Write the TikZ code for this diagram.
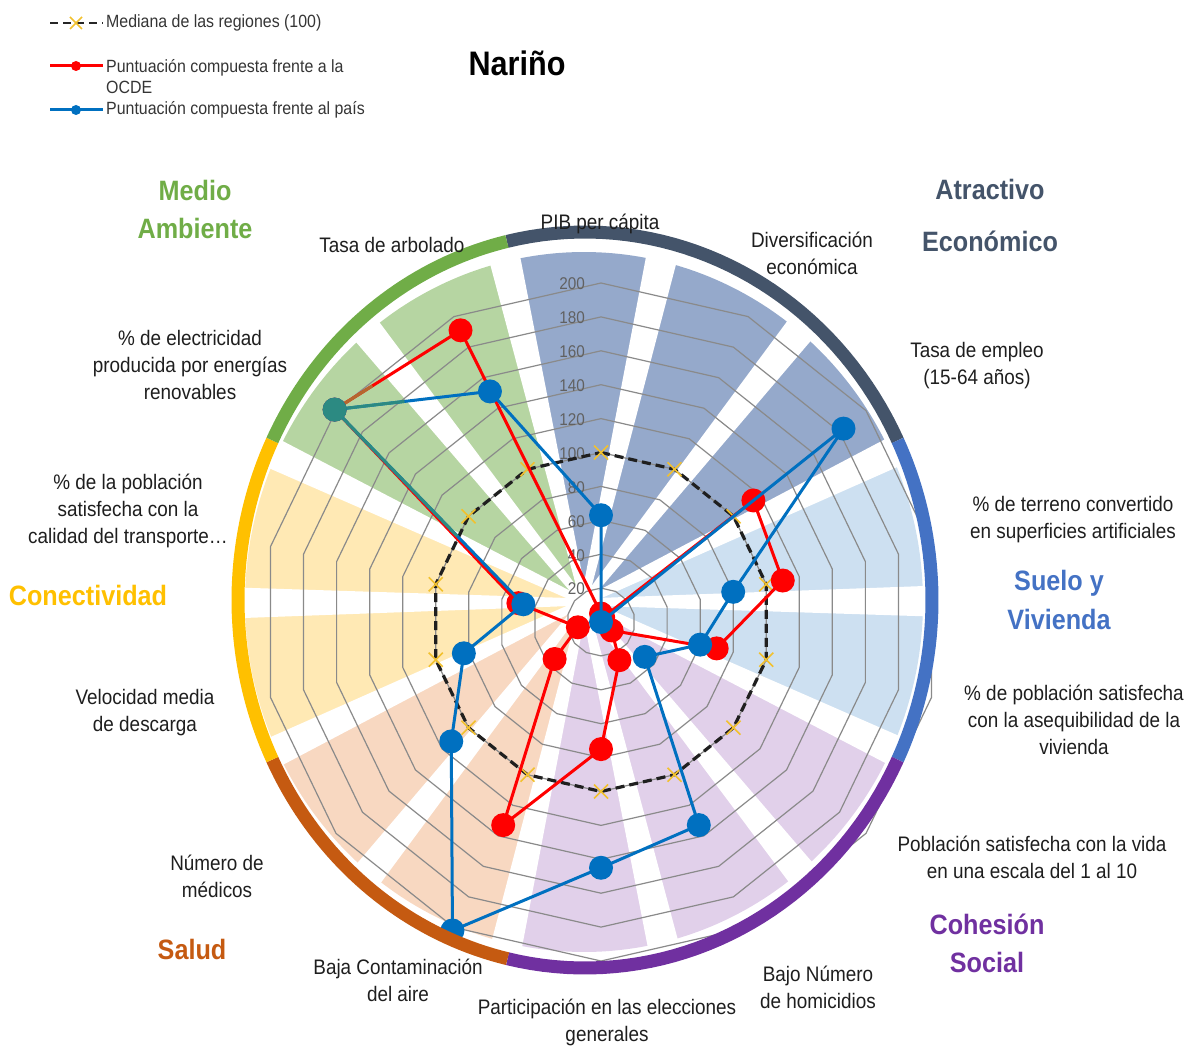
\documentclass[tikz,border=0pt]{standalone}
\usepackage{fontspec}
\setmainfont[FakeStretch=0.9]{Liberation Sans}
\usetikzlibrary{calc}
\definecolor{sliceG}{HTML}{B6D5A2}
\definecolor{sliceD}{HTML}{95A9CB}
\definecolor{sliceL}{HTML}{CDE0F1}
\definecolor{sliceP}{HTML}{E1D0EA}
\definecolor{sliceO}{HTML}{F8D8C1}
\definecolor{sliceY}{HTML}{FFE9B4}
\definecolor{ringG}{HTML}{70AD47}
\definecolor{ringD}{HTML}{44546A}
\definecolor{ringB}{HTML}{4472C4}
\definecolor{ringP}{HTML}{7030A0}
\definecolor{ringO}{HTML}{C55A11}
\definecolor{ringY}{HTML}{FFC000}
\definecolor{serR}{HTML}{FF0000}
\definecolor{serB}{HTML}{0070C0}
\definecolor{serT}{HTML}{2C8A82}
\definecolor{serBr}{HTML}{B5672E}
\definecolor{gridc}{HTML}{8A8A8A}
\definecolor{mkc}{HTML}{F2C12E}
\definecolor{txt}{HTML}{1E1E1E}
\begin{document}
\begin{tikzpicture}[x=1pt,y=-1pt,
  lab/.style={font=\fontsize{21}{27}\selectfont, text=txt, align=center, inner sep=0pt},
  cat/.style={font=\fontsize{28}{38}\selectfont\bfseries, align=center, inner sep=0pt},
  leg/.style={font=\fontsize{17.7}{21}\selectfont, text=txt!90, align=left, inner sep=0pt, anchor=west},
  scal/.style={font=\fontsize{17}{20}\selectfont, text=black!62, inner sep=0pt, anchor=east},
  gridline/.style={draw=gridc, line width=1.2},
  medline/.style={draw=black!88, line width=3.2, dash pattern=on 9 off 5},
  mk/.style={draw=mkc, line width=1.6},
  redline/.style={draw=serR, line width=3, line join=round},
  blueline/.style={draw=serB, line width=3, line join=round},
  ringseg/.style={line width=13}
]
\useasboundingbox (0,0) rectangle (1187,1046);

% background pie slices
\foreach \k/\c in {0/sliceD,1/sliceD,2/sliceD,3/sliceL,4/sliceL,5/sliceP,6/sliceP,7/sliceP,8/sliceO,9/sliceO,10/sliceY,11/sliceY,12/sliceG,13/sliceG}{
  \pgfmathsetmacro\aa{25.714*\k-13}
  \pgfmathsetmacro\bb{25.714*\k+12.714}
  \fill[\c] (584,602) -- plot[domain=\aa:\bb, samples=24, variable=\t] ({584+339*sin(\t)},{602-350*cos(\t)}) -- cycle;
}
% white gaps between slices
\foreach \k in {0,...,13}{
  \pgfmathsetmacro\bb{25.714*\k-13}
  \fill[white] ({584+3.5*cos(\bb)},{602+3.5*sin(\bb)}) -- ({584-3.5*cos(\bb)},{602-3.5*sin(\bb)})
    -- ({584+380*sin(\bb)-16.5*cos(\bb)},{602-380*cos(\bb)-16.5*sin(\bb)})
    -- ({584+380*sin(\bb)+16.5*cos(\bb)},{602-380*cos(\bb)+16.5*sin(\bb)}) -- cycle;
}

% grid polygons
\foreach \vv in {20,40,...,200}{
  \draw[gridline] plot[samples at={0,...,13}, variable=\t] ({601+1.695*\vv*sin(25.714*\t)},{622-1.695*\vv*cos(25.714*\t)}) -- cycle;
}
% scale labels
\foreach \vv in {0,20,...,200}{
  \node[scal] (s\vv) at (585,{623-1.695*\vv}) {\vv};
}

% median polygon
\draw[medline] plot[samples at={0,...,13}, variable=\t] ({601+169.5*sin(25.714*\t)},{622-169.5*cos(25.714*\t)}) -- cycle;
\foreach \k in {0,...,13}{
  \coordinate (m\k) at ({601+169.5*sin(25.714*\k)},{622-169.5*cos(25.714*\k)});
  \draw[mk] (m\k) +(-7,-7) -- +(7,7) +(-7,7) -- +(7,-7);
}

% series coordinates
\foreach \k/\vv in {0/5,1/3,2/115,3/110,4/70,5/8,6/25,7/75,8/133,9/35,10/14,11/50,12/201,13/191}{
  \coordinate (r\k) at ({601+1.695*\vv*sin(25.714*\k)},{622-1.695*\vv*cos(25.714*\k)});
}
\foreach \k/\vv in {0/63,1/0,2/183,3/80,4/60,5/33,6/133,7/145,8/202,9/113,10/83,11/47,12/201,13/151}{
  \coordinate (b\k) at ({601+1.695*\vv*sin(25.714*\k)},{622-1.695*\vv*cos(25.714*\k)});
}

% red series
\draw[redline] (r0) -- (r1) -- (r2) -- (r3) -- (r4) -- (r5) -- (r6) -- (r7) -- (r8) -- (r9) -- (r10) -- (r11) -- (r12) -- (r13) -- cycle;
\draw[draw=serBr, line width=3] (r12) -- ($(r12)!0.3!(r13)$);
\foreach \k in {0,...,13}{ \fill[serR] (r\k) circle[radius=12]; }

% blue series
\draw[blueline] (b0) -- (b1) -- (b2) -- (b3) -- (b4) -- (b5) -- (b6) -- (b7) -- (b8) -- (b9) -- (b10) -- (b11) -- (b12) -- (b13) -- cycle;
\draw[draw=serT, line width=3] (b12) -- ($(b12)!0.65!(b11)$);
\draw[draw=serT, line width=3] (b12) -- ($(b12)!0.45!(b13)$);
\foreach \k in {0,...,13}{ \fill[serB] (b\k) circle[radius=12]; }
\fill[serT] (b12) circle[radius=12];

% outer ring
\foreach \aa/\bb/\c in {-13/64.3/ringD, 64.3/115.7/ringB, 115.7/192.9/ringP, 192.9/244.3/ringO, 244.3/295.7/ringY, 295.7/347/ringG}{
  \draw[ringseg, draw=\c] plot[domain=\aa:\bb, samples=40, variable=\t] ({585+347*sin(\t)},{600-368*cos(\t)});
}

% title
\node[font=\fontsize{34}{40}\selectfont\bfseries, text=black, inner sep=0pt] (title) at (517,63) {Nariño};

% legend
\coordinate (la) at (50,23); \coordinate (lb) at (103,23); \coordinate (lm) at (76,23);
\draw[draw=black!85, line width=2.6, dash pattern=on 8 off 5] (la) -- (lb);
\draw[mk] (lm) +(-6,-6) -- +(6,6) +(-6,6) -- +(6,-6);
\node[leg] (l1) at (106,23) {Mediana de las regiones (100)};
\coordinate (lc) at (50,66); \coordinate (ld) at (103,66); \coordinate (ln) at (76,66);
\draw[draw=serR, line width=3] (lc) -- (ld);
\fill[serR] (ln) circle[radius=5];
\node[leg] (l2) at (106,77) {Puntuación compuesta frente a la\\OCDE};
\coordinate (le) at (50,110); \coordinate (lf) at (103,110); \coordinate (lo) at (76,110);
\draw[draw=serB, line width=3] (le) -- (lf);
\fill[serB] (lo) circle[radius=5];
\node[leg] (l3) at (106,110) {Puntuación compuesta frente al país};

% category titles
\node[cat, text=ringG] (cMA) at (195,209) {Medio\\Ambiente};
\node[cat, text=ringD, font=\fontsize{28}{52}\selectfont\bfseries] (cAE) at (990,215) {Atractivo\\Económico};
\node[cat, text=ringB, font=\fontsize{28}{39}\selectfont\bfseries] (cSV) at (1059,600) {Suelo y\\Vivienda};
\node[cat, text=ringP] (cCS) at (987,943) {Cohesión\\Social};
\node[cat, text=ringO] (cSa) at (192,949) {Salud};
\node[cat, text=ringY] (cCo) at (88,595) {Conectividad};

% axis labels
\node[lab] (a0) at (600,224) {PIB per cápita};
\node[lab] (a1) at (812,253) {Diversificación\\económica};
\node[lab] (a2) at (977,366) {Tasa de empleo\\(15-64 años)};
\node[lab] (a3) at (1073,520) {\% de terreno convertido\\en superficies artificiales};
\node[lab] (a4) at (1074,720) {\% de población satisfecha\\con la asequibilidad de la\\vivienda};
\node[lab] (a5) at (1032,857) {Población satisfecha con la vida\\en una escala del 1 al 10};
\node[lab] (a6) at (818,987) {Bajo Número\\de homicidios};
\node[lab] (a7) at (607,1022) {Participación en las elecciones\\generales};
\node[lab] (a8) at (398,980) {Baja Contaminación\\del aire};
\node[lab] (a9) at (217,876) {Número de\\médicos};
\node[lab] (a10) at (145,713) {Velocidad media\\de descarga};
\node[lab] (a11) at (128,511) {\% de la población\\satisfecha con la\\calidad del transporte…};
\node[lab] (a12) at (190,365) {\% de electricidad\\producida por energías\\renovables};
\node[lab] (a13) at (392,245) {Tasa de arbolado};
\end{tikzpicture}
\end{document}
